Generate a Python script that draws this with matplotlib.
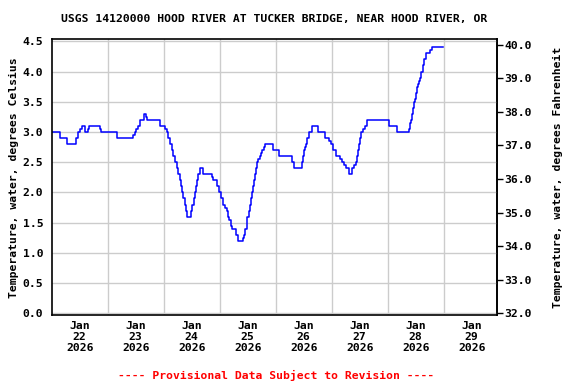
import numpy as np
import matplotlib
matplotlib.use("Agg")
import matplotlib.pyplot as plt

# Change points of the 15-minute water temperature record (hours since Jan 22 2026 00:00, deg C)
hours = [0, 3.7, 6.7, 10.3, 11.3, 12.1, 12.9, 14.3, 15.7, 16.1, 20.6, 21.0, 27.9, 34.8, 35.6,
         36.3, 37.0, 37.7, 39.6, 40.3, 41.0, 46.5, 48.7, 49.5, 50.0, 50.7, 51.4, 52.1, 52.8,
         53.5, 54.2, 54.9, 55.4, 56.0, 56.4, 57.0, 57.5, 57.9, 59.6, 60.2, 60.8, 61.3, 61.7,
         62.2, 62.9, 63.6, 64.7, 64.9, 68.6, 69.3, 70.7, 71.7, 72.7, 73.3, 74.3, 75.0, 75.7,
         76.1, 76.8, 77.4, 79.0, 79.7, 82.1, 82.5, 83.0, 83.5, 83.9, 84.4, 84.8, 85.3, 85.7,
         86.2, 86.6, 87.0, 87.4, 87.9, 88.5, 89.1, 89.7, 90.2, 90.8, 91.3, 94.7, 97.5, 102.9,
         104.0, 107.1, 107.8, 108.3, 108.7, 109.1, 109.6, 110.4, 111.7, 114.3, 117.1, 118.8,
         119.5, 120.7, 121.9, 123.6, 124.3, 125.3, 126.0, 127.4, 128.8, 129.7, 130.3, 130.7,
         131.1, 131.6, 132.1, 132.7, 133.6, 134.3, 135.0, 144.7, 147.9, 153.2, 153.6, 154.0,
         154.5, 155.0, 155.4, 155.7, 156.1, 156.6, 157.0, 157.4, 157.8, 158.4, 159.3, 159.7,
         160.5, 162.1, 163.1, 167.8]
temps_c = [3.0, 2.9, 2.8, 2.9, 3.0, 3.05, 3.1, 3.0, 3.05, 3.1, 3.05, 3.0, 2.9, 2.95, 3.0,
           3.05, 3.1, 3.2, 3.3, 3.25, 3.2, 3.1, 3.05, 3.0, 2.9, 2.8, 2.7, 2.6, 2.5,
           2.4, 2.3, 2.2, 2.1, 2.0, 1.9, 1.8, 1.7, 1.6, 1.7, 1.8, 1.9, 2.0, 2.1,
           2.2, 2.3, 2.4, 2.35, 2.3, 2.25, 2.2, 2.1, 2.0, 1.9, 1.8, 1.75, 1.7, 1.6,
           1.55, 1.45, 1.4, 1.3, 1.2, 1.25, 1.3, 1.4, 1.5, 1.6, 1.7, 1.8, 1.9, 2.0,
           2.1, 2.2, 2.3, 2.4, 2.5, 2.55, 2.6, 2.65, 2.7, 2.75, 2.8, 2.7, 2.6, 2.5,
           2.4, 2.5, 2.6, 2.7, 2.75, 2.8, 2.9, 3.0, 3.1, 3.0, 2.9, 2.85,
           2.8, 2.7, 2.6, 2.55, 2.5, 2.45, 2.4, 2.3, 2.4, 2.45, 2.5, 2.6,
           2.7, 2.8, 2.9, 3.0, 3.05, 3.1, 3.2, 3.1, 3.0, 3.05, 3.15, 3.2,
           3.3, 3.4, 3.5, 3.55, 3.65, 3.75, 3.8, 3.85, 3.9, 4.0, 4.1, 4.2,
           4.3, 4.35, 4.4, 4.4]

day_labels = ["Jan\n22\n2026", "Jan\n23\n2026", "Jan\n24\n2026", "Jan\n25\n2026",
              "Jan\n26\n2026", "Jan\n27\n2026", "Jan\n28\n2026", "Jan\n29\n2026"]
left_ticks = [0.0, 0.5, 1.0, 1.5, 2.0, 2.5, 3.0, 3.5, 4.0, 4.5]
right_ticks = [32.0, 33.0, 34.0, 35.0, 36.0, 37.0, 38.0, 39.0, 40.0]

title = "USGS 14120000 HOOD RIVER AT TUCKER BRIDGE, NEAR HOOD RIVER, OR"
left_label = "Temperature, water, degrees Celsius"
right_label = "Temperature, water, degrees Fahrenheit"
footer = "---- Provisional Data Subject to Revision ----"

FONT = "DejaVu Sans Mono"
FS = 8.2

fig = plt.figure(figsize=(5.76, 3.84), dpi=100)
ax = fig.add_axes([51.7 / 576, 1 - 315.3 / 384, (497 - 51.7) / 576, (315.3 - 39.3) / 384])

days = np.array(hours) / 24.0
ax.plot(days, temps_c, drawstyle="steps-post", color="#0000ff", lw=1.1)

ax.set_xlim(0, 7.952)
ax.set_ylim(-0.033, 4.533)

# gridlines at day boundaries, labels centred on each day
ax.set_xticks(np.arange(1, 8))
ax.set_xticklabels([])
ax.set_xticks(np.arange(len(day_labels)) + 0.5, minor=True)
ax.set_xticklabels(day_labels, minor=True, fontfamily=FONT, fontsize=FS,
                   fontweight="bold", linespacing=1.15)
ax.tick_params(axis="x", which="both", length=0)
ax.tick_params(axis="x", which="minor", pad=4)

ax.set_yticks(left_ticks)
ax.set_yticklabels([f"{v:.1f}" for v in left_ticks], fontfamily=FONT, fontsize=FS,
                   fontweight="bold")
ax.tick_params(axis="y", length=0, pad=6)

ax.grid(True, which="major", color="#cccccc", lw=1.0)
ax.set_axisbelow(True)
for s in ax.spines.values():
    s.set_linewidth(1.2)

ax.set_ylabel(left_label, fontfamily=FONT, fontsize=FS, fontweight="bold", labelpad=3)

sec = ax.secondary_yaxis("right", functions=(lambda c: c * 1.8 + 32, lambda f: (f - 32) / 1.8))
sec.set_yticks(right_ticks)
sec.set_yticklabels([f"{v:.1f}" for v in right_ticks], fontfamily=FONT, fontsize=FS,
                    fontweight="bold")
sec.tick_params(axis="y", length=4, width=1.0, pad=1.5)
sec.spines["right"].set_linewidth(1.2)
sec.set_ylabel(right_label, fontfamily=FONT, fontsize=FS, fontweight="bold", labelpad=15)

fig.text(274 / 576, 1 - 19 / 384, title, ha="center", va="center", fontfamily=FONT,
         fontsize=FS, fontweight="bold")
fig.text(276 / 576, 1 - 375 / 384, footer, ha="center", va="center", fontfamily=FONT,
         fontsize=FS, fontweight="bold", color="#ff0000")

fig.savefig("out.png", dpi=100)
